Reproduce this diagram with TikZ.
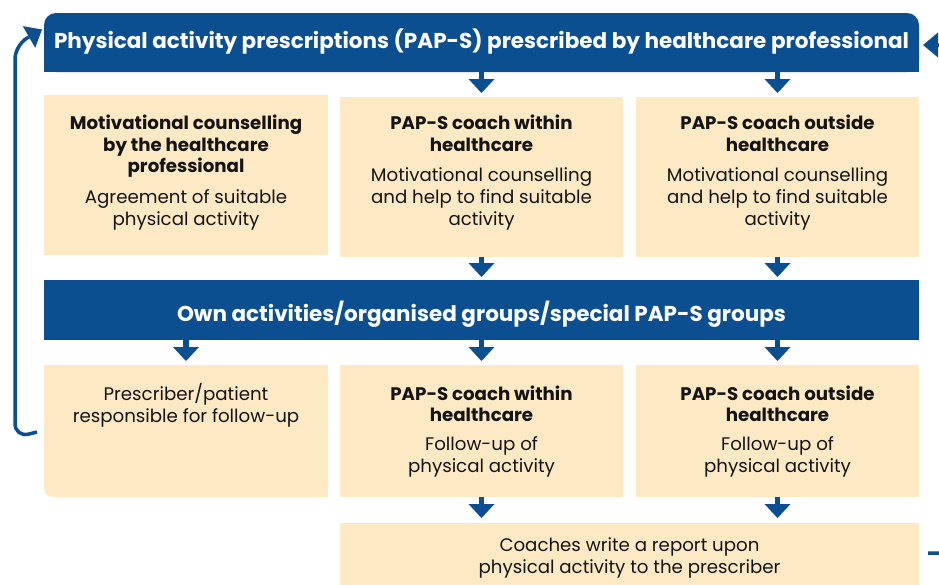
\documentclass[tikz,border=0pt]{standalone}
\usepackage{fontspec}
\setmainfont{Poppins}
\usetikzlibrary{arrows.meta,calc}
\definecolor{pblue}{RGB}{12,79,145}
\definecolor{pbeige}{RGB}{253,233,195}
\definecolor{ptext}{RGB}{20,20,20}
\begin{document}
\begin{tikzpicture}[x=1pt,y=-1pt,
  boxarea/.style={fill=pbeige, draw=none, inner sep=0pt, outer sep=0pt, anchor=north west},
  bararea/.style={draw=none, inner sep=0pt, outer sep=0pt, anchor=north west},
  head/.style={font=\fontsize{18.2}{21.8}\selectfont\bfseries, text=ptext, align=center, inner sep=0pt, anchor=base},
  body/.style={font=\fontsize{18.2}{22.3}\selectfont, text=ptext, align=center, inner sep=0pt, anchor=base},
  bartext/.style={font=\fontsize{21.5}{24}\selectfont\bfseries, text=white, inner sep=0pt, anchor=base},
  flow/.style={draw=pblue, line width=5.5pt, -{Triangle[width=26pt,length=14pt,line width=0pt]}},
  loop/.style={draw=pblue, line width=3.5pt, rounded corners=14pt, -{Triangle[width=25pt,length=15pt,line width=0pt]}}
]
\clip (0,0) rectangle (939,584);
\fill[white] (0,0) rectangle (939,584);
% top bar
\fill[pblue, rounded corners=12pt] (44,13) rectangle (919,72);
\fill[pblue] (44,40) rectangle (919,72);
\node[bararea, minimum width=875pt, minimum height=59pt] (top) at (44,13) {};
\node[bartext] (toptxt) at (481.5,48.3) {Physical activity prescriptions (PAP-S) prescribed by healthcare professional};
% row 1 boxes
\node[boxarea, minimum width=284pt, minimum height=160pt] (a1) at (44,95) {};
\node[boxarea, minimum width=283pt, minimum height=160pt] (a2) at (340,97) {};
\node[boxarea, minimum width=283pt, minimum height=160pt] (a3) at (636,97) {};
\node[head] (a1h) at (186,172.9) {Motivational counselling\\by the healthcare\\professional};
\node[body] (a1b) at (186,225.6) {Agreement of suitable\\physical activity};
\node[head] (a2h) at (481.5,151.1) {PAP-S coach within\\healthcare};
\node[body] (a2b) at (481.5,225.6) {Motivational counselling\\and help to find suitable\\activity};
\node[head] (a3h) at (777.5,151.1) {PAP-S coach outside\\healthcare};
\node[body] (a3b) at (777.5,225.6) {Motivational counselling\\and help to find suitable\\activity};
% middle bar
\fill[pblue] (44,280) rectangle (919,340);
\node[bararea, minimum width=875pt, minimum height=60pt] (mid) at (44,280) {};
\node[bartext] (midtxt) at (481.5,321.7) {Own activities/organised groups/special PAP-S groups};
% row 2 boxes
\fill[pbeige, rounded corners=9pt] (44,365) rectangle (328,497);
\fill[pbeige] (44,365) rectangle (328,470);
\fill[pbeige] (100,365) rectangle (328,497);
\node[bararea, minimum width=284pt, minimum height=132pt] (b1) at (44,365) {};
\node[boxarea, minimum width=283pt, minimum height=132pt] (b2) at (340,365) {};
\node[boxarea, minimum width=283pt, minimum height=132pt] (b3) at (636,365) {};
\node[body] (b1b) at (186,422.3) {Prescriber/patient\\responsible for follow-up};
\node[head] (b2h) at (481.5,421.8) {PAP-S coach within\\healthcare};
\node[body] (b2b) at (481.5,472.5) {Follow-up of\\physical activity};
\node[head] (b3h) at (777.5,421.8) {PAP-S coach outside\\healthcare};
\node[body] (b3b) at (777.5,472.5) {Follow-up of\\physical activity};
% bottom box
\node[boxarea, minimum width=579pt, minimum height=80pt] (c) at (340,523) {};
\node[body] (cb) at (629.5,573.5) {Coaches write a report upon\\physical activity to the prescriber};
% flow arrows
\draw[flow] (top.south -| a2.north) -- ([yshift=4pt]a2.north);
\draw[flow] (top.south -| a3.north) -- ([yshift=4pt]a3.north);
\draw[flow] (a2.south) -- ([yshift=3pt]mid.north -| a2.south);
\draw[flow] (a3.south) -- ([yshift=3pt]mid.north -| a3.south);
\draw[flow] (mid.south -| b1.north) -- ([yshift=4pt]b1.north);
\draw[flow] (mid.south -| b2.north) -- ([yshift=4pt]b2.north);
\draw[flow] (mid.south -| b3.north) -- ([yshift=4pt]b3.north);
\draw[flow] (b2.south) -- ([yshift=5pt]c.north -| b2.south);
\draw[flow] (b3.south) -- ([yshift=5pt]c.north -| b3.south);
% feedback loops
\coordinate (lstart) at ($(b1.west)+(-7pt,-1pt)$);
\coordinate (lend) at ($(top.west)+(-2pt,13pt)$);
\draw[loop] (lstart) -- (15,437.5) -- (15,45) -- (lend);
\coordinate (rstart) at ($(c.east)+(9pt,0)$);
\coordinate (rend) at (923,45);
\draw[loop] (rstart |- 0,553) -- (955,553) -- (955,45) -- (rend);
\end{tikzpicture}
\end{document}
